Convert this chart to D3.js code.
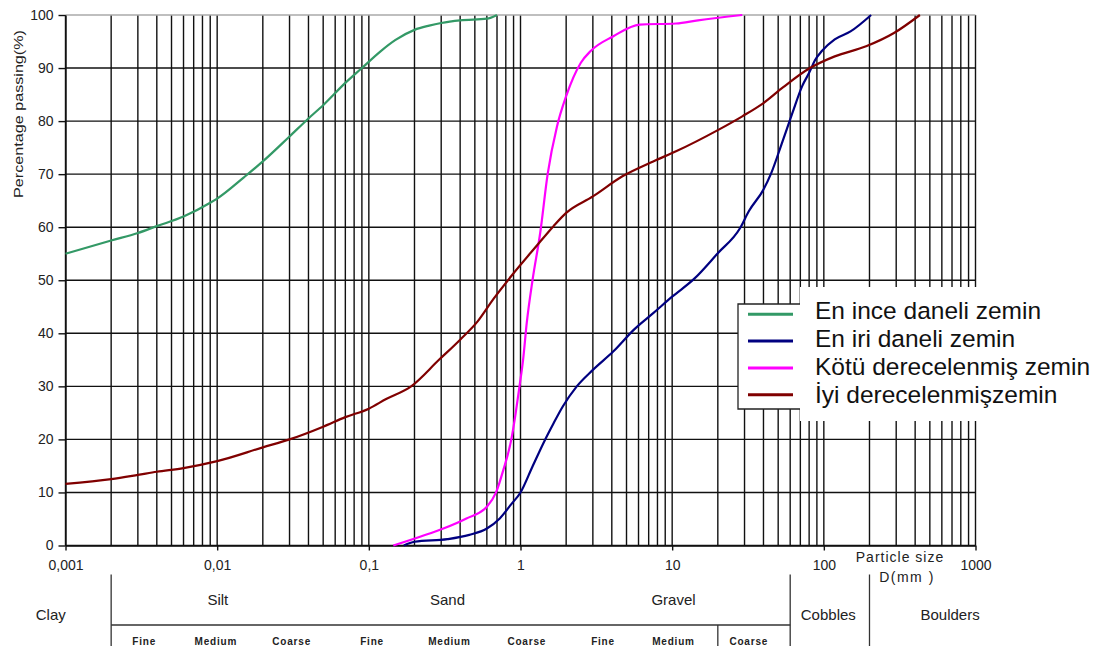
<!DOCTYPE html>
<html>
<head>
<meta charset="utf-8">
<script src="https://cdn.jsdelivr.net/npm/d3@7"></script>
<style>
  body { margin: 0; background: #fff; }
  svg { display: block; font-family: "Liberation Sans", Arial, sans-serif; }
</style>
</head>
<body>
<div id="chart"></div>
<script>
// ---- data (particle size in mm, percentage passing) ----
const sizeTicks = [0.001, 0.01, 0.1, 1, 10, 100, 1000];
const sizeTickLabels = ["0,001", "0,01", "0,1", "1", "10", "100", "1000"];
const percentTicks = [0, 10, 20, 30, 40, 50, 60, 70, 80, 90, 100];

const seriesNames = ["En ince daneli zemin", "En iri daneli zemin", "Kötü derecelenmiş zemin", "İyi derecelenmişzemin"];
const seriesColors = ["#339966", "#000080", "#ff00ff", "#800000"];

const fineSoil = [[0.001,55],[0.002,57.5],[0.003,58.9],[0.004,60.2],[0.006,62],[0.009,64.6],[0.01,65.4],
  [0.015,69.4],[0.02,72.4],[0.03,77.1],[0.04,80.5],[0.05,83],[0.07,87.2],[0.09,90],[0.12,93.2],[0.15,95.3],
  [0.2,97.2],[0.25,98],[0.3,98.5],[0.4,99],[0.6,99.3],[0.7,100]];

const coarseSoil = [[0.17,0],[0.2,0.7],[0.33,1.2],[0.46,2],[0.6,3.2],[0.73,5.1],[0.87,7.8],[1,10],[1.2,14.9],
  [1.45,19.9],[1.65,23],[1.9,26.2],[2.35,30],[3,33.1],[4.1,36.6],[5.6,40.7],[7.5,43.8],[10,46.9],[14,50.3],
  [20,55.1],[28,59.8],[32,63],[40,67.1],[45,70.2],[53,75.9],[62,81.5],[72,86.6],[80,89.1],[88,91.6],[97,93.2],
  [118,95.4],[150,96.9],[205,100]];

const poorlyGraded = [[0.145,0],[0.22,1.7],[0.31,3.2],[0.44,5.1],[0.6,7.3],[0.69,10],[0.77,14.2],[0.87,20],
  [0.93,25],[0.985,30],[1.04,35],[1.1,42],[1.2,50],[1.35,59],[1.51,70],[1.74,79],[2,84.7],[2.5,91],[2.9,93.2],
  [4.1,96],[6.1,98.2],[10.6,98.4],[14.8,99],[29,100]];

const wellGraded = [[0.001,11.6],[0.002,12.5],[0.003,13.3],[0.004,13.9],[0.006,14.6],[0.01,15.9],[0.02,18.5],
  [0.03,20],[0.05,22.4],[0.07,24.2],[0.1,25.8],[0.13,27.6],[0.19,30],[0.29,35],[0.4,38.8],[0.52,42.2],
  [0.66,46.4],[0.87,50.8],[1.27,56.4],[1.65,60.2],[2,62.7],[3,65.8],[4.7,69.6],[7.5,72.4],[10.6,74.3],
  [20,78.3],[29,80.9],[40,83.4],[54,86.4],[81,90],[118,92.2],[190,94.1],[290,96.6],[430,100]];

const allSeries = [fineSoil, coarseSoil, poorlyGraded, wellGraded];

// soil classification table under the axis
const classNames = ["Clay", "Silt", "Sand", "Gravel", "Cobbles", "Boulders"];
const classCenters = [0.0008, 0.0101, 0.33, 10.2, 107, 680];
const classBounds = [0.002, 60, 200];
const subNames = ["Fine", "Medium", "Coarse", "Fine", "Medium", "Coarse", "Fine", "Medium", "Coarse"];
const subCenters = [0.0033, 0.0098, 0.031, 0.105, 0.34, 1.1, 3.5, 10.2, 32];

// ---- layout ----
const W = 1101, H = 646;
const x = d3.scaleLog().domain([0.001, 1000]).range([65.5, 975.5]);
const y = d3.scaleLinear().domain([0, 100]).range([545.5, 15]);

const svg = d3.select("#chart").append("svg").attr("width", W).attr("height", H);

// grid
const gridX = [];
sizeTicks.slice(0, -1).forEach(d => { for (let m = 1; m <= 9; m++) gridX.push(+(m * d).toPrecision(3)); });
gridX.push(1000);

svg.append("g").selectAll("line").data(gridX).join("line")
  .attr("x1", d => x(d)).attr("x2", d => x(d))
  .attr("y1", y(100)).attr("y2", y(0))
  .attr("stroke", "#111").attr("stroke-width", 1.4);

svg.append("g").selectAll("line").data(percentTicks).join("line")
  .attr("x1", x(0.001)).attr("x2", x(1000))
  .attr("y1", d => y(d)).attr("y2", d => y(d))
  .attr("stroke", d => d === 100 ? "#aaa" : "#111").attr("stroke-width", 1.4);

// axes
const yAxis = svg.append("g").attr("transform", `translate(${x(0.001)},0)`)
  .call(d3.axisLeft(y).tickValues(percentTicks).tickSize(7).tickSizeOuter(0).tickPadding(5));
yAxis.selectAll("text").attr("font-size", 14).attr("font-family", "Liberation Sans, Arial").attr("fill", "#222");
yAxis.selectAll("line,path").attr("stroke", "#111").attr("stroke-width", 1.4);

const xAxis = svg.append("g").attr("transform", `translate(0,${y(0)})`)
  .call(d3.axisBottom(x).tickValues(sizeTicks).tickFormat((d, i) => sizeTickLabels[i])
    .tickSize(5).tickSizeOuter(0).tickPadding(10));
xAxis.selectAll("text").attr("font-size", 14).attr("font-family", "Liberation Sans, Arial").attr("fill", "#222");
xAxis.selectAll("line,path").attr("stroke", "#111").attr("stroke-width", 1.4);

svg.append("text")
  .attr("transform", "translate(23,114) rotate(-90)")
  .attr("text-anchor", "middle").attr("font-size", 13).attr("fill", "#222")
  .attr("textLength", 168).attr("lengthAdjust", "spacingAndGlyphs")
  .text("Percentage passing(%)");

svg.append("text").attr("x", 900).attr("y", 562).attr("text-anchor", "middle")
  .attr("font-size", 14).attr("letter-spacing", 1).attr("fill", "#222").text("Particle size");
svg.append("text").attr("x", 907).attr("y", 582).attr("text-anchor", "middle")
  .attr("font-size", 14).attr("letter-spacing", 1.5).attr("fill", "#222").text("D(mm )");

// curves
const line = d3.line().x(d => x(d[0])).y(d => y(d[1])).curve(d3.curveMonotoneX);
svg.append("g").selectAll("path").data(allSeries).join("path")
  .attr("d", line).attr("fill", "none")
  .attr("stroke", (d, i) => seriesColors[i]).attr("stroke-width", 2.2);

// legend
const lg = svg.append("g");
lg.append("rect").attr("x", 800).attr("y", 287).attr("width", 298).attr("height", 134).attr("fill", "#fff");
lg.append("rect").attr("x", 738).attr("y", 304).attr("width", 62).attr("height", 105).attr("fill", "#fff");
lg.append("path").attr("d", "M800,304H738V409H800").attr("fill", "none").attr("stroke", "#222").attr("stroke-width", 1.3);
seriesNames.forEach((name, i) => {
  const ly = 314.3 + i * 26.8;
  lg.append("line").attr("x1", 748).attr("x2", 793).attr("y1", ly).attr("y2", ly)
    .attr("stroke", seriesColors[i]).attr("stroke-width", 3);
  lg.append("text").attr("x", 815).attr("y", 318.5 + i * 28.3)
    .attr("font-size", 24.5).attr("fill", "#111").text(name);
});

// classification table
const tb = svg.append("g").attr("stroke", "#333").attr("stroke-width", 1.3);
classBounds.forEach(b => {
  tb.append("line").attr("x1", x(b)).attr("x2", x(b)).attr("y1", 574.5).attr("y2", H);
});
tb.append("line").attr("x1", x(0.002)).attr("x2", x(60)).attr("y1", 625).attr("y2", 625);
tb.append("line").attr("x1", x(20)).attr("x2", x(20)).attr("y1", 625).attr("y2", H);

classNames.forEach((name, i) => {
  const cy = (i === 0 || i >= 4) ? 620 : 605;
  svg.append("text").attr("x", x(classCenters[i])).attr("y", cy).attr("text-anchor", "middle")
    .attr("font-size", 15).attr("fill", "#222").text(name);
});
subNames.forEach((name, i) => {
  svg.append("text").attr("x", x(subCenters[i])).attr("y", 644.5).attr("text-anchor", "middle")
    .attr("font-size", 10).attr("font-weight", "bold").attr("letter-spacing", 0.8)
    .attr("fill", "#222").text(name);
});
</script>
</body>
</html>
